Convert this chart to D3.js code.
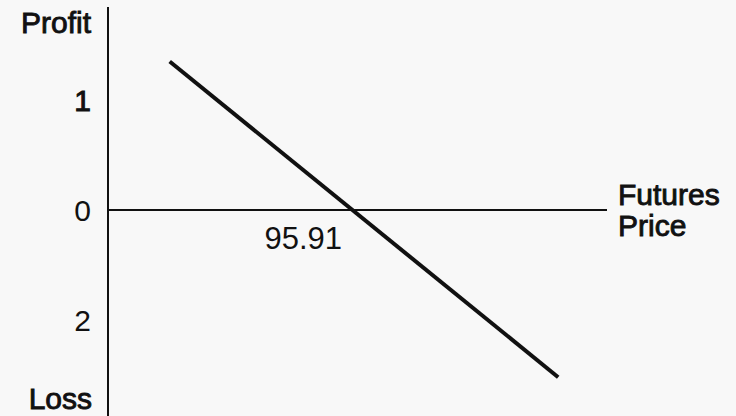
<!DOCTYPE html>
<html>
<head>
<meta charset="utf-8">
<script src="https://cdn.jsdelivr.net/npm/d3@7"></script>
<style>
  html, body { margin: 0; padding: 0; background: #f8f8f8; }
  svg { display: block; }
</style>
</head>
<body>
<svg id="chart" width="736" height="416"></svg>
<script>
// Profit/loss of a short futures position against the futures price
const breakEven = 95.91;
const prices = [94.565, 97.43];
const profits = [1.35, -1.52];
const tickValues = [1, 0, -1];
const tickLabels = ["1", "0", "2"];

const W = 736, H = 416;
const svg = d3.select("#chart");
svg.append("rect").attr("width", W).attr("height", H).attr("fill", "#f8f8f8");

const x = d3.scaleLinear().domain([94.11, 97.79]).range([108, 607]);
const y = d3.scaleLinear().domain([-1, 1]).range([320, 100]);

const ink = "#111";
const font = "'Liberation Sans', Arial, sans-serif";

// heavier labels: regular face thickened with a thin outline
function heavy(sel) {
  return sel.attr("stroke", ink).attr("stroke-width", 0.9).attr("paint-order", "stroke");
}

// vertical axis
svg.append("line")
  .attr("x1", 108).attr("x2", 108)
  .attr("y1", 7).attr("y2", H)
  .attr("stroke", ink).attr("stroke-width", 2);

// horizontal (zero) axis
svg.append("line")
  .attr("x1", 108).attr("x2", 607)
  .attr("y1", y(0)).attr("y2", y(0))
  .attr("stroke", ink).attr("stroke-width", 2);

// tick labels on the left
const tickHeavy = [true, false, false];
svg.selectAll("text.tick")
  .data(tickValues)
  .enter().append("text")
  .attr("class", "tick")
  .attr("x", 91)
  .attr("y", d => y(d))
  .attr("dy", "0.36em")
  .attr("text-anchor", "end")
  .attr("font-family", font)
  .attr("font-size", 30)
  .attr("fill", ink)
  .attr("stroke", (d, i) => tickHeavy[i] ? ink : "none")
  .attr("stroke-width", 1)
  .text((d, i) => tickLabels[i]);

// axis titles
heavy(svg.append("text")
  .attr("x", 91).attr("y", 33)
  .attr("text-anchor", "end")
  .attr("font-family", font).attr("font-size", 30)
  .attr("fill", ink).text("Profit"));

heavy(svg.append("text")
  .attr("x", 92).attr("y", 409)
  .attr("text-anchor", "end")
  .attr("font-family", font).attr("font-size", 30)
  .attr("fill", ink).text("Loss"));

heavy(svg.append("text")
  .attr("x", 618).attr("y", 205)
  .attr("font-family", font).attr("font-size", 30)
  .attr("fill", ink).text("Futures"));

heavy(svg.append("text")
  .attr("x", 618).attr("y", 236)
  .attr("font-family", font).attr("font-size", 30)
  .attr("fill", ink).text("Price"));

// break-even price label
svg.append("text")
  .attr("x", x(breakEven) - 10).attr("y", 249)
  .attr("text-anchor", "end")
  .attr("font-family", font).attr("font-size", 31)
  .attr("fill", ink).text(breakEven.toFixed(2));

// payoff line
const pts = prices.map((p, i) => [p, profits[i]]);
svg.append("path")
  .datum(pts)
  .attr("d", d3.line().x(d => x(d[0])).y(d => y(d[1])))
  .attr("fill", "none")
  .attr("stroke", ink)
  .attr("stroke-width", 4);
</script>
</body>
</html>
